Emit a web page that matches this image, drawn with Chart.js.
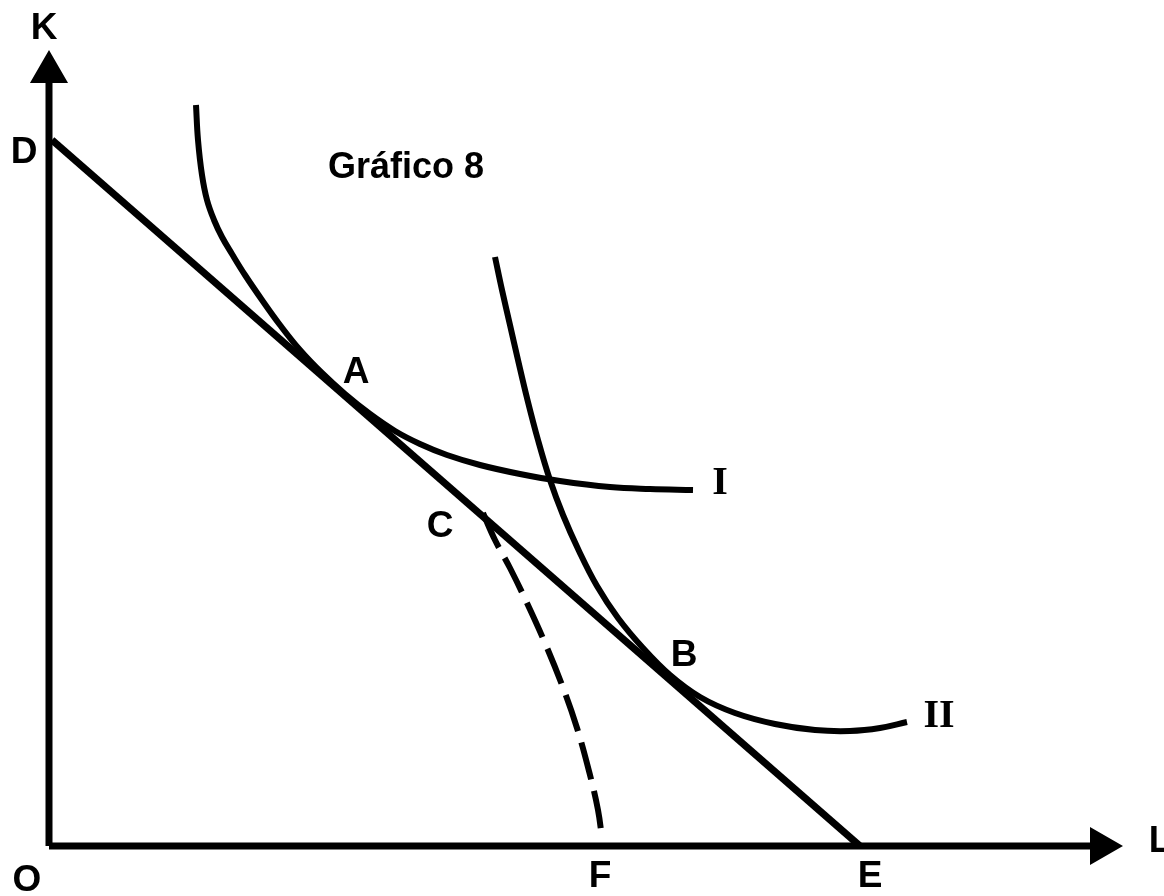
<!DOCTYPE html>
<html lang="es">
<head>
<meta charset="utf-8">
<title>Gráfico 8</title>
<script src="https://cdn.jsdelivr.net/npm/chart.js@4/dist/chart.umd.min.js"></script>
<style>
  html, body { margin: 0; padding: 0; background: #fff; }
  canvas { display: block; }
</style>
</head>
<body>
<canvas id="grafico" width="1164" height="896"></canvas>
<script>
// ============================================================
// DATOS — unidades arbitrarias de L (eje x) y K (eje y)
// ============================================================
const ejeK  = [{ x: 0, y: 0 }, { x: 0, y: 77.4 }];
const ejeL  = [{ x: 0, y: 0 }, { x: 105.2, y: 0 }];

// Recta de isocosto D–E
const rectaDE = [{ x: 0.3, y: 70.6 }, { x: 81.1, y: 0 }];

// Isocuanta I (tangente en A)
const isoI = [
  { x: 14.7, y: 74.1 }, { x: 14.9, y: 70.6 }, { x: 15.3, y: 67.1 }, { x: 15.8, y: 64.6 },
  { x: 16.5, y: 62.6 }, { x: 17.3, y: 60.9 }, { x: 18.3, y: 59.2 }, { x: 19.6, y: 57.1 },
  { x: 21.3, y: 54.6 }, { x: 23.1, y: 52.1 }, { x: 25.1, y: 49.6 }, { x: 27.3, y: 47.3 },
  { x: 29.6, y: 45.2 }, { x: 32.1, y: 43.2 }, { x: 34.6, y: 41.5 }, { x: 37.1, y: 40.2 },
  { x: 39.8, y: 39.1 }, { x: 43.1, y: 38.1 }, { x: 47.1, y: 37.2 }, { x: 51.1, y: 36.5 },
  { x: 56.1, y: 35.9 }, { x: 60.1, y: 35.7 }, { x: 64.4, y: 35.6 },
];

// Isocuanta II (tangente en B)
const isoII = [
  { x: 44.6, y: 58.9 }, { x: 45.3, y: 55.6 }, { x: 46.1, y: 52.1 }, { x: 46.9, y: 48.6 },
  { x: 47.8, y: 44.8 }, { x: 48.9, y: 40.6 }, { x: 50.1, y: 36.6 }, { x: 51.4, y: 33.1 },
  { x: 53.0, y: 29.5 }, { x: 54.8, y: 26.0 }, { x: 56.9, y: 22.8 }, { x: 59.4, y: 19.8 },
  { x: 62.1, y: 17.1 }, { x: 65.1, y: 14.9 }, { x: 68.6, y: 13.3 }, { x: 72.6, y: 12.2 },
  { x: 76.6, y: 11.6 }, { x: 80.1, y: 11.5 }, { x: 83.1, y: 11.8 }, { x: 85.8, y: 12.4 },
];

// Tramo discontinuo C–F
const tramoCF = [
  { x: 43.4, y: 33.3 }, { x: 44.6, y: 30.6 }, { x: 46.1, y: 27.8 }, { x: 47.8, y: 24.3 },
  { x: 49.6, y: 20.3 }, { x: 51.3, y: 16.1 }, { x: 52.8, y: 11.8 }, { x: 54.1, y: 7.1 },
  { x: 54.9, y: 3.6 },  { x: 55.3, y: 0.8 },
];

// Rótulos (texto y punto de anclaje)
const rotulos      = ['K', 'D', 'O', 'F', 'E', 'L', 'A', 'B', 'C'];
const rotulosX     = [-0.5, -2.5, -2.2, 55.1, 82.1, 111.1, 30.7, 63.5, 39.1];
const rotulosY     = [81.7, 69.3, -3.5, -3.1, -3.1, 0.4, 47.3, 19.0, 31.9];
const romanos      = ['I', 'II'];
const romanosX     = [67.1, 89.0];
const romanosY     = [36.2, 12.9];
const TITULO       = 'Gráfico 8';
const TITULO_XY    = { x: 35.7, y: 67.8 };

// ============================================================
// RÓTULOS — se dibujan en coordenadas de las escalas
// ============================================================
const pluginRotulos = {
  id: 'rotulos',
  afterDatasetsDraw(chart) {
    const { ctx, scales: { x, y } } = chart;
    ctx.save();
    ctx.fillStyle = '#000';
    ctx.textAlign = 'center';
    ctx.textBaseline = 'middle';

    ctx.font = 'bold 37px "Liberation Sans", Arial, sans-serif';
    rotulos.forEach((t, i) => {
      ctx.fillText(t, x.getPixelForValue(rotulosX[i]), y.getPixelForValue(rotulosY[i]));
    });

    ctx.font = 'bold 36px "Liberation Sans", Arial, sans-serif';
    ctx.fillText(TITULO, x.getPixelForValue(TITULO_XY.x), y.getPixelForValue(TITULO_XY.y));

    ctx.font = 'bold 40px "Liberation Serif", serif';
    romanos.forEach((t, i) => {
      ctx.fillText(t, x.getPixelForValue(romanosX[i]), y.getPixelForValue(romanosY[i]));
    });
    ctx.restore();
  }
};

// ============================================================
// GRÁFICA
// ============================================================
const linea = (data, extra) => Object.assign({
  data,
  showLine: true,
  borderColor: '#000',
  backgroundColor: '#000',
  borderWidth: 6,
  pointRadius: 0,
  fill: false,
  clip: false,
  tension: 0.4,
}, extra);

new Chart(document.getElementById('grafico'), {
  type: 'scatter',
  data: {
    datasets: [
      // ejes con punta de flecha en el extremo
      linea(ejeK, { borderWidth: 7, tension: 0, pointStyle: 'triangle', pointRadius: [0, 15], pointRotation: 0 }),
      linea(ejeL, { borderWidth: 7, tension: 0, pointStyle: 'triangle', pointRadius: [0, 15], pointRotation: 90 }),
      linea(rectaDE, { borderWidth: 7, tension: 0 }),
      linea(isoI),
      linea(isoII),
      linea(tramoCF, { borderDash: [38, 12] }),
    ]
  },
  options: {
    responsive: false,
    animation: false,
    layout: { padding: { left: 49, right: 49, top: 58, bottom: 50 } },
    plugins: {
      legend: { display: false },
      tooltip: { enabled: false }
    },
    scales: {
      x: { type: 'linear', min: 0, max: 106.6, display: false },
      y: { type: 'linear', min: 0, max: 78.8, display: false }
    }
  },
  plugins: [pluginRotulos]
});
</script>
</body>
</html>
